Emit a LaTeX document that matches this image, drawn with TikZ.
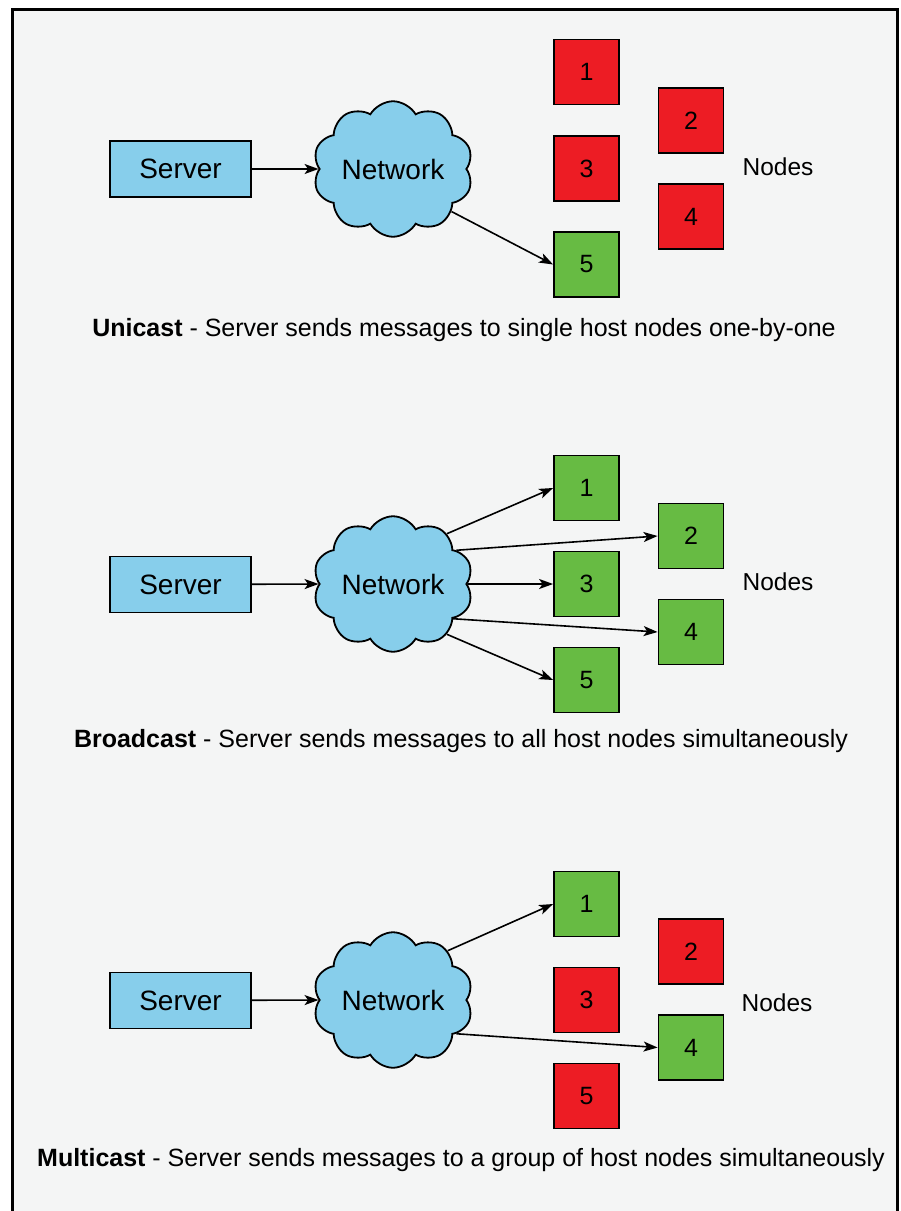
\documentclass[tikz,border=0pt]{standalone}
\usepackage{fontspec}
\setmainfont{Liberation Sans}
\usetikzlibrary{shapes.symbols,arrows.meta}
\definecolor{bg}{RGB}{244,245,245}
\definecolor{skyb}{RGB}{135,206,235}
\definecolor{nred}{RGB}{237,28,36}
\definecolor{ngreen}{RGB}{103,187,67}
\tikzset{
  serverbox/.style={draw=black, line width=1.8pt, fill=skyb, minimum width=141pt, minimum height=56pt, inner sep=0pt, font=\fontsize{28}{30}\selectfont},
  netcloud/.style={cloud, cloud puffs=10, cloud puff arc=120, aspect=1.26, draw=black, line width=1.8pt, fill=skyb, minimum width=160pt, minimum height=127pt, inner sep=0pt, font=\fontsize{28}{30}\selectfont},
  hostbox/.style={draw=black, line width=1.8pt, minimum width=65pt, minimum height=65pt, inner sep=0pt, font=\fontsize{25}{28}\selectfont},
  hostR/.style={hostbox, fill=nred},
  hostG/.style={hostbox, fill=ngreen},
  grouplbl/.style={font=\fontsize{24.5}{28}\selectfont},
  captext/.style={font=\fontsize{25}{28}\selectfont},
  link/.style={-{Stealth[length=14pt,width=10pt,inset=3.5pt]}, line width=1.6pt},
}
\begin{document}
\begin{tikzpicture}[x=1pt,y=-1pt]
\useasboundingbox (0,0) rectangle (901,1211);
\clip (0,0) rectangle (901,1211);
\fill[white] (0,0) rectangle (901,1211);
\draw[line width=3pt, fill=bg] (12,9) rectangle (897,1230);

% ---------- Unicast ----------
\node[serverbox] (srvA) at (180.5,169) {Server};
\node[netcloud] (netA) at (393,169) {Network};
\node[hostR] (a1) at (586.5,72) {1};
\node[hostR] (a2) at (691,120.5) {2};
\node[hostR] (a3) at (586.5,168.5) {3};
\node[hostR] (a4) at (691,216.5) {4};
\node[hostG] (a5) at (586.5,264.5) {5};
\node[grouplbl] (nodesA) at (778,167) {Nodes};
\node[captext] (capA) at (464,330) {\textbf{Unicast} - Server sends messages to single host nodes one-by-one};
\draw[link] (srvA) -- (netA.west);
\draw[link] (netA.-36) -- (a5.west);

% ---------- Broadcast ----------
\node[serverbox] (srvB) at (180.5,584.5) {Server};
\node[netcloud] (netB) at (393,584) {Network};
\node[hostG] (b1) at (586.5,488) {1};
\node[hostG] (b2) at (691,536) {2};
\node[hostG] (b3) at (586.5,584) {3};
\node[hostG] (b4) at (691,632) {4};
\node[hostG] (b5) at (586.5,680) {5};
\node[grouplbl] (nodesB) at (778,582) {Nodes};
\node[captext] (capB) at (461,741) {\textbf{Broadcast} - Server sends messages to all host nodes simultaneously};
\draw[link] (srvB) -- (netB.west);
\draw[link] (netB.43) -- (b1.west);
\draw[link] (netB.28) -- (b2.west);
\draw[link] (netB.0) -- (b3.west);
\draw[link] (netB.-30) -- (b4.west);
\draw[link] (netB.-43) -- (b5.west);

% ---------- Multicast ----------
\node[serverbox] (srvC) at (180.5,1000.5) {Server};
\node[netcloud] (netC) at (393,1000) {Network};
\node[hostG] (c1) at (586.5,904) {1};
\node[hostR] (c2) at (691,951.5) {2};
\node[hostR] (c3) at (586.5,1000) {3};
\node[hostG] (c4) at (691,1047.5) {4};
\node[hostR] (c5) at (586.5,1096) {5};
\node[grouplbl] (nodesC) at (777,1003) {Nodes};
\node[captext] (capC) at (461,1160) {\textbf{Multicast} - Server sends messages to a group of host nodes simultaneously};
\draw[link] (srvC) -- (netC.west);
\draw[link] (netC.42) -- (c1.west);
\draw[link] (netC.-28) -- (c4.west);
\end{tikzpicture}
\end{document}
